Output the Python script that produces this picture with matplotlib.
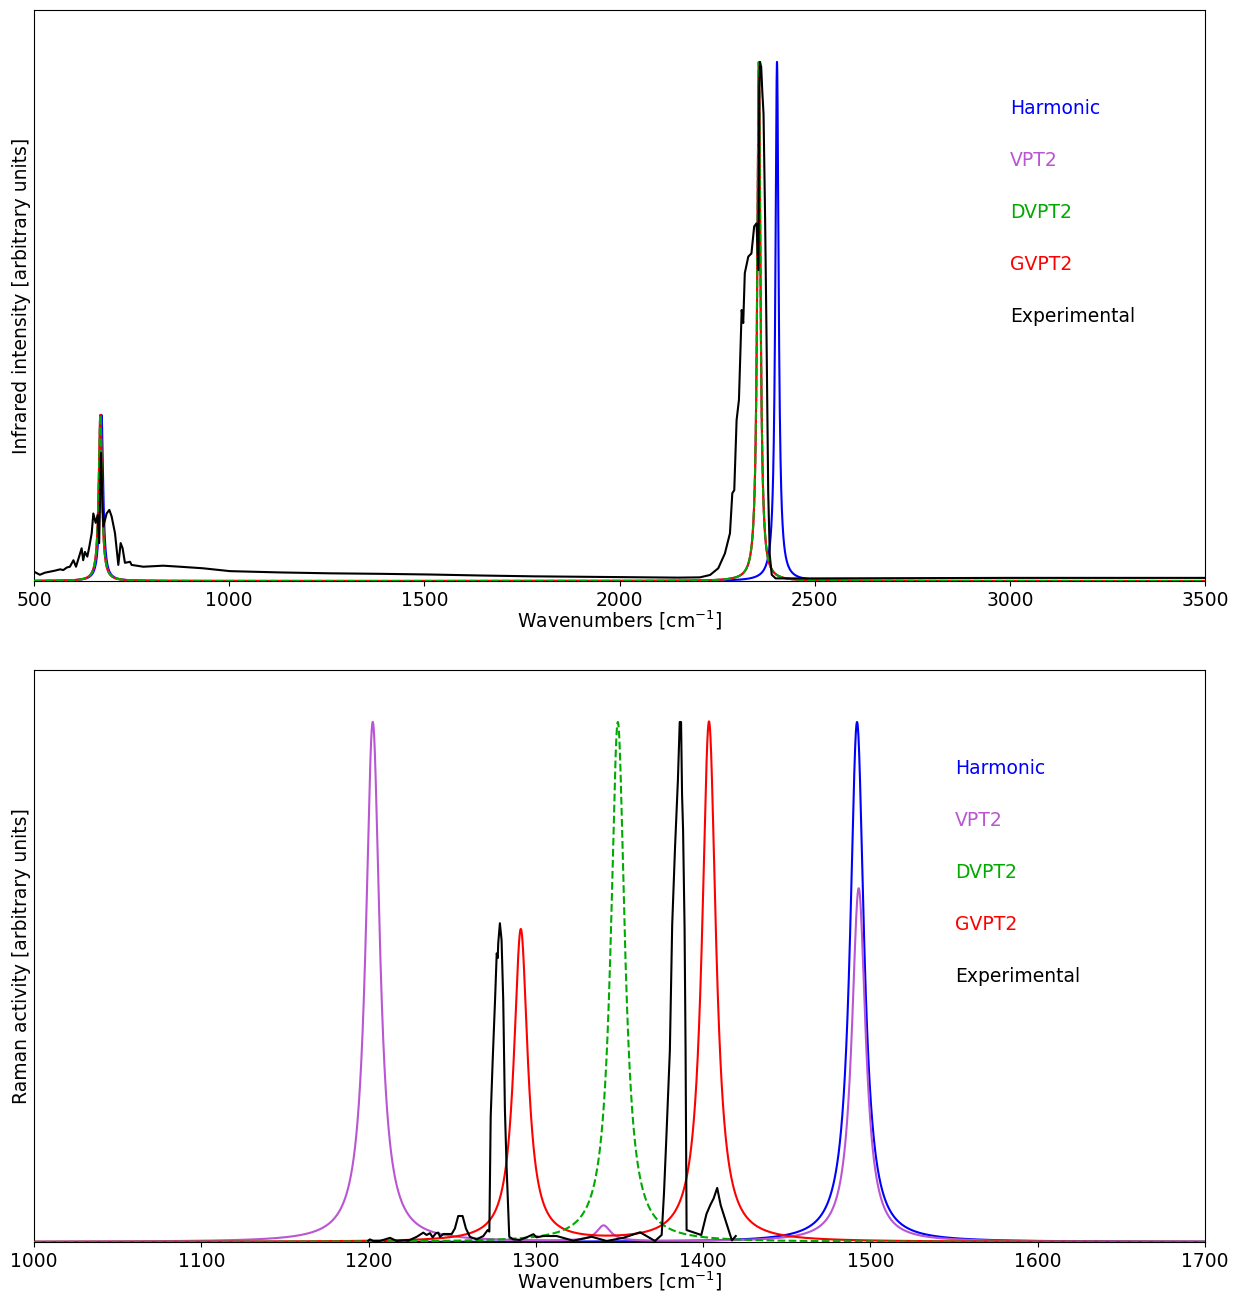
import numpy as np
import matplotlib
matplotlib.use("Agg")
import matplotlib.pyplot as plt

# ---------------- data ----------------
labels = ["Harmonic", "VPT2", "DVPT2", "GVPT2", "Experimental"]

# IR: band positions (cm-1) and relative peak heights
ir_harm_pos = [673.0, 2403.5]
ir_harm_int = [0.32, 1.0]
ir_vpt2_pos = [670.0, 2357.0]
ir_vpt2_int = [0.32, 1.0]
ir_dvpt2_pos = [670.0, 2357.0]
ir_dvpt2_int = [0.32, 1.0]
ir_gvpt2_pos = [670.0, 2357.0]
ir_gvpt2_int = [0.32, 1.0]

ir_exp_wn = [500, 515, 528, 541, 554, 567, 575, 584, 592, 601, 607.6, 618, 622, 626,
             630.6, 636.6, 641.7, 647.8, 652, 658, 663, 667, 671.6, 677.6, 686, 693, 699,
             707.5, 716, 722, 727, 733, 746, 750, 780, 831, 874, 933, 1002, 1130, 1258,
             1390, 1515, 1650, 1778, 2000, 2150, 2206, 2232, 2253, 2270, 2283, 2289, 2294,
             2300, 2306, 2313, 2317, 2321, 2330, 2338, 2345, 2351, 2356, 2358, 2360, 2363,
             2366, 2369, 2373, 2377, 2381, 2385, 2390, 2400, 2500, 3000, 3500]
ir_exp_int = [0.018, 0.012, 0.016, 0.018, 0.020, 0.0225, 0.021, 0.026, 0.0275, 0.040, 0.0275,
              0.053, 0.063, 0.040, 0.056, 0.047, 0.066, 0.092, 0.130, 0.112, 0.127, 0.073,
              0.247, 0.105, 0.130, 0.137, 0.124, 0.092, 0.031, 0.073, 0.063, 0.035, 0.037,
              0.031, 0.0275, 0.0295, 0.0275, 0.0245, 0.019, 0.0165, 0.0148, 0.0138, 0.0125,
              0.0105, 0.009, 0.0075, 0.0065, 0.007, 0.0116, 0.0245, 0.053, 0.092, 0.169,
              0.175, 0.310, 0.349, 0.522, 0.497, 0.593, 0.625, 0.631, 0.683, 0.689, 0.599,
              0.95, 1.0, 0.99, 0.94, 0.90, 0.70, 0.45, 0.17, 0.05, 0.012, 0.005, 0.005,
              0.006, 0.006]

# Raman: band positions (cm-1) and relative peak heights
ra_harm_pos = [1492.0]
ra_harm_int = [1.0]
ra_vpt2_pos = [1202.5, 1340.5, 1493.0]
ra_vpt2_int = [1.0, 0.03, 0.68]
ra_dvpt2_pos = [1349.0]
ra_dvpt2_int = [1.0]
ra_gvpt2_pos = [1291.0, 1403.5]
ra_gvpt2_int = [0.60, 1.0]

ra_exp_wn = [1199.8, 1200.8, 1202.8, 1206.8, 1212.8, 1216.8, 1224.7, 1228.8, 1232.7, 1234.7,
             1236.7, 1238.3, 1240.3, 1241.7, 1242.7, 1244.7, 1249.7, 1251.6, 1253.6, 1256.2,
             1258.2, 1260.6, 1264.6, 1268.6, 1271.2, 1272.2, 1273.0, 1274.2, 1275.6, 1276.6,
             1277.2, 1277.5, 1278.5, 1279.5, 1280.5, 1281.5, 1282.5, 1284.1, 1286.5, 1290.5,
             1294.5, 1298.5, 1300.5, 1304.4, 1312.4, 1322.4, 1333.4, 1342.3, 1352.3, 1362.3,
             1371.2, 1375.2, 1376.6, 1378.0, 1380.1, 1381.5, 1383.2, 1384.9, 1386.0, 1386.8,
             1387.4, 1388.0, 1388.9, 1389.5, 1390.1, 1398.9, 1402.0, 1404.2, 1406.3, 1408.4,
             1410.5, 1417.2, 1419.5]
ra_exp_int = [0.0025, 0.005, 0.002, 0.002, 0.008, 0.002, 0.004, 0.010, 0.018, 0.0135,
              0.017, 0.009, 0.017, 0.018, 0.010, 0.0154, 0.0154, 0.026, 0.050, 0.050,
              0.026, 0.010, 0.005, 0.0115, 0.023, 0.02, 0.241, 0.35, 0.465, 0.555,
              0.546, 0.574, 0.613, 0.581, 0.465, 0.254, 0.145, 0.010, 0.005, 0.004,
              0.009, 0.015, 0.009, 0.0115, 0.0115, 0.0025, 0.010, 0.002, 0.008, 0.0187,
              0.002, 0.0135, 0.094, 0.20, 0.3675, 0.610, 0.759, 0.887, 1.0, 1.0,
              0.860, 0.793, 0.604, 0.3675, 0.023, 0.0135, 0.054, 0.0706, 0.084, 0.104,
              0.0706, 0.003, 0.0115]

ir_xlim = (500, 3500)
ir_xticks = [500, 1000, 1500, 2000, 2500, 3000, 3500]
ra_xlim = (1000, 1700)
ra_xticks = [1000, 1100, 1200, 1300, 1400, 1500, 1600, 1700]

# ---------------- styling ----------------
colors = {"Harmonic": "#0000ff", "VPT2": "#ba55d3", "DVPT2": "#00aa00",
          "GVPT2": "#ff0000", "Experimental": "#000000"}
HWHM = 5.0
FS = 13.5


def lorentz(x, pos, hgt, hwhm=HWHM):
    y = np.zeros_like(x)
    for p, h in zip(pos, hgt):
        y += h * hwhm ** 2 / ((x - p) ** 2 + hwhm ** 2)
    return y


fig = plt.figure(figsize=(12.33, 12.92), dpi=100)
W, H = 1233.0, 1292.0
ax1 = fig.add_axes([34 / W, 1 - 581 / H, 1171 / W, 571 / H])
ax2 = fig.add_axes([34 / W, 1 - 1242 / H, 1171 / W, 572 / H])


def draw(ax, xlim, xticks, theo, exp_wn, exp_int, ylabel, leg_x_px, leg_y0_px,
         ax_top, ax_bot):
    x = np.linspace(xlim[0], xlim[1], 12001)
    z = {"Harmonic": 2, "VPT2": 2, "DVPT2": 4, "GVPT2": 3}
    for name in ["Harmonic", "VPT2", "DVPT2", "GVPT2"]:
        pos, hgt = theo[name]
        ls = "--" if name == "DVPT2" else "-"
        ax.plot(x, lorentz(x, pos, hgt), color=colors[name], lw=1.5, ls=ls,
                zorder=z[name], label=name)
    ax.plot(exp_wn, exp_int, color=colors["Experimental"], lw=1.5, zorder=5,
            label="Experimental")
    ax.set_xlim(*xlim)
    ax.set_ylim(0, 1.1)
    ax.set_xticks(xticks)
    ax.tick_params(axis="x", labelsize=FS)
    ax.set_yticks([])
    ax.set_xlabel("Wavenumbers [cm$^{-1}$]", fontsize=FS, labelpad=-1)
    ax.set_ylabel(ylabel, fontsize=FS, labelpad=2)
    h = ax_bot - ax_top
    for i, name in enumerate(labels):
        ypx = leg_y0_px + 52 * i
        ax.text((leg_x_px - 34) / 1171, (ax_bot - ypx) / h, name, color=colors[name],
                fontsize=FS, va="center", ha="left", transform=ax.transAxes)


draw(ax1, ir_xlim, ir_xticks,
     {"Harmonic": (ir_harm_pos, ir_harm_int), "VPT2": (ir_vpt2_pos, ir_vpt2_int),
      "DVPT2": (ir_dvpt2_pos, ir_dvpt2_int), "GVPT2": (ir_gvpt2_pos, ir_gvpt2_int)},
     ir_exp_wn, ir_exp_int, "Infrared intensity [arbitrary units]", 1010, 108, 10, 581)
draw(ax2, ra_xlim, ra_xticks,
     {"Harmonic": (ra_harm_pos, ra_harm_int), "VPT2": (ra_vpt2_pos, ra_vpt2_int),
      "DVPT2": (ra_dvpt2_pos, ra_dvpt2_int), "GVPT2": (ra_gvpt2_pos, ra_gvpt2_int)},
     ra_exp_wn, ra_exp_int, "Raman activity [arbitrary units]", 955, 768, 670, 1242)

fig.savefig("out.png", dpi=100)
